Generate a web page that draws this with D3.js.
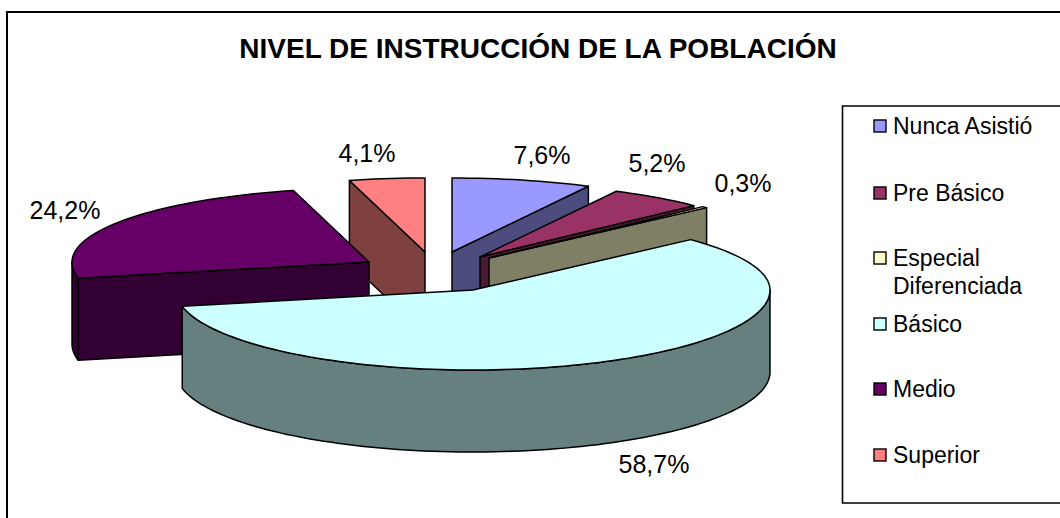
<!DOCTYPE html>
<html><head><meta charset="utf-8">
<script src="https://d3js.org/d3.v7.min.js"></script>
<style>html,body{margin:0;padding:0;background:#fff;overflow:hidden}svg{display:block}text{font-family:"Liberation Sans",Arial,sans-serif;fill:#000}</style>
</head><body><svg id="c" width="1060" height="518"></svg>
<script>
const categories = ["Nunca Asistió","Pre Básico","Especial Diferenciada","Básico","Medio","Superior"];
const values = [7.6,5.2,0.3,58.7,24.2,4.1];
const valueLabels = ["7,6%","5,2%","0,3%","58,7%","24,2%","4,1%"];
const topColors = ["#9999FF","#993366","#FFFFCC","#CCFFFF","#660066","#FF8080"];
const sideColors = ["#4C4C7F","#4C1933","#7F7F66","#667F7F","#330033","#7F4040"];
const explodeX = [452,480,489,473,369,425];
const explodeY = [252,257,258,290,262,252];
const labelX = [542,657,743,654,65,367];
const labelY = [164,172,192,473,219,162];
const legendLines = [["Nunca Asistió"],["Pre Básico"],["Especial","Diferenciada"],["Básico"],["Medio"],["Superior"]];
const legendY = [126,193,258,324,389,455];
const drawOrder = [5,0,1,2,4,3];
const depth = 82;

const svg = d3.select("#c");
const rx = d3.scaleLinear().domain([-1,1]).range([-297,297]);
const ry = d3.scaleLinear().domain([-1,0,1]).range([80,0,-74]);
const arcs = d3.pie().sort(null).value(d=>d).startAngle(0).endAngle(2*Math.PI)(values);
const line = d3.line().curve(d3.curveLinear);
const pt = (i,a,dz=0)=>[explodeX[i]+rx(Math.sin(a)), explodeY[i]+ry(Math.cos(a))+dz];
const samples = (a0,a1,i,dz=0)=>{const n=Math.max(2,Math.ceil((a1-a0)/0.03));return d3.range(n+1).map(k=>pt(i,a0+(a1-a0)*k/n,dz));};

svg.append("path").attr("fill","none").attr("stroke","#000").attr("stroke-width",2).attr("d",line([[7,518],[7,12],[1060,12]]));
svg.append("text").attr("x",538).attr("y",58).attr("text-anchor","middle").attr("font-size",28).attr("font-weight","bold").text("NIVEL DE INSTRUCCIÓN DE LA POBLACIÓN");

const pie = svg.append("g").attr("stroke","#000").attr("stroke-width",1.5).attr("stroke-linejoin","round");
drawOrder.forEach(i=>{
  const d=arcs[i], a0=d.startAngle, a1=d.endAngle, g=pie.append("g");
  const ax=explodeX[i], ay=explodeY[i];
  [[a0,Math.sin(a0)<-1e-6],[a1,Math.sin(a1)>1e-6]].forEach(([a,front])=>{
    if(!front) return;
    const p=pt(i,a);
    g.append("path").attr("fill",sideColors[i]).attr("d",line([[ax,ay],p,[p[0],p[1]+depth],[ax,ay+depth]])+"Z");
  });
  const w0=Math.max(a0,Math.PI/2), w1=Math.min(a1,3*Math.PI/2);
  if(w1>w0){
    const top=samples(w0,w1,i), bot=samples(w0,w1,i,depth).reverse();
    g.append("path").attr("fill",sideColors[i]).attr("d",line(top.concat(bot))+"Z");
  }
  g.append("path").attr("fill",topColors[i]).attr("d",line([[ax,ay]].concat(samples(a0,a1,i)))+"Z");
});

valueLabels.forEach((t,i)=>svg.append("text").attr("x",labelX[i]).attr("y",labelY[i]).attr("text-anchor","middle").attr("font-size",25).text(t));

svg.append("path").attr("fill","none").attr("stroke","#000").attr("stroke-width",1.6).attr("d",line([[1060,106],[842.5,106],[842.5,503],[1060,503]]));
categories.forEach((c,i)=>{
  const lines=legendLines[i], y=legendY[i];
  svg.append("rect").attr("x",874).attr("y",y-6).attr("width",12).attr("height",12).attr("fill",topColors[i]).attr("stroke","#000").attr("stroke-width",1.4);
  lines.forEach((l,k)=>svg.append("text").attr("x",893).attr("y",y+7.5+k*28).attr("font-size",23).text(l));
});
</script></body></html>
